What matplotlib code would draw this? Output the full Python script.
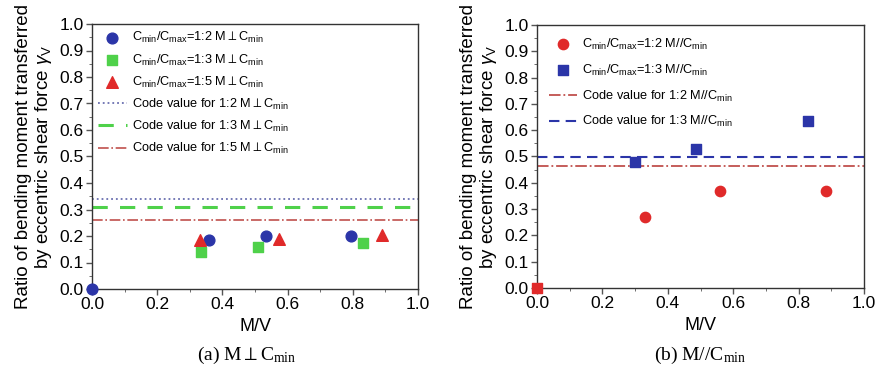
import matplotlib
matplotlib.use('Agg')
import matplotlib.pyplot as plt
from matplotlib.ticker import MultipleLocator

plt.rcParams['font.family'] = ['Liberation Sans', 'DejaVu Sans']
plt.rcParams['mathtext.fontset'] = 'custom'
plt.rcParams['mathtext.rm'] = 'Liberation Sans'
plt.rcParams['mathtext.it'] = 'Liberation Sans:italic'
plt.rcParams['mathtext.fallback'] = 'stixsans'

# (a) M perpendicular to Cmin
a_x_12 = [0.0, 0.36, 0.535, 0.795]
a_y_12 = [0.0, 0.185, 0.20, 0.20]
a_x_13 = [0.335, 0.51, 0.83]
a_y_13 = [0.14, 0.16, 0.175]
a_x_15 = [0.33, 0.575, 0.89]
a_y_15 = [0.185, 0.19, 0.205]
a_code = [0.34, 0.31, 0.26]

# (b) M parallel to Cmin
b_x_12 = [0.33, 0.56, 0.885]
b_y_12 = [0.27, 0.37, 0.37]
b_x_13 = [0.30, 0.485, 0.83]
b_y_13 = [0.48, 0.53, 0.635]
b_origin = [0.0, 0.0]
b_code = [0.465, 0.50]

blue = '#2b35a8'
green = '#4fd14a'
red = '#e02a2a'
cm = r'C$_\mathregular{min}$/C$_\mathregular{max}$'
cmin = r'C$_\mathregular{min}$'
perp = r'M${\perp}$'

fig = plt.figure(figsize=(8.8, 3.82), dpi=100)
ax1 = fig.add_axes([92/880, 1-289/382, 326/880, 265/382])
ax2 = fig.add_axes([537/880, 1-288/382, 327/880, 263/382])

ax1.scatter(a_x_12, a_y_12, marker='o', s=60, color=blue, zorder=3, clip_on=False,
            label=cm + '=1:2 ' + perp + cmin)
ax1.scatter(a_x_13, a_y_13, marker='s', s=55, color=green, zorder=3,
            label=cm + '=1:3 ' + perp + cmin)
ax1.scatter(a_x_15, a_y_15, marker='^', s=70, color=red, zorder=3,
            label=cm + '=1:5 ' + perp + cmin)
ax1.axhline(a_code[0], color='#6a6fb0', ls=':', lw=1.3, label='Code value for 1:2 ' + perp + cmin)
ax1.axhline(a_code[1], color=green, ls=(0, (5, 4)), lw=2.2, label='Code value for 1:3 ' + perp + cmin)
ax1.axhline(a_code[2], color='#c0504d', ls='-.', lw=1.2, label='Code value for 1:5 ' + perp + cmin)

ax2.scatter(b_x_12, b_y_12, marker='o', s=55, color=red, zorder=3,
            label=cm + '=1:2 M//' + cmin)
ax2.scatter(b_x_13, b_y_13, marker='s', s=50, color=blue, zorder=3,
            label=cm + '=1:3 M//' + cmin)
ax2.scatter([b_origin[0]], [b_origin[1]], marker='s', s=55, color=red, zorder=4, clip_on=False)
ax2.axhline(b_code[0], color='#c0504d', ls='-.', lw=1.3, label='Code value for 1:2 M//' + cmin)
ax2.axhline(b_code[1], color=blue, ls=(0, (5, 3)), lw=1.5, label='Code value for 1:3 M//' + cmin)

ylab = 'Ratio of bending moment transferred\nby eccentric shear force ' + r'$\gamma_\mathregular{V}$'
for ax, spacing, pad in ((ax1, 0.55, 0.1), (ax2, 0.85, 0.5)):
    ax.set_xlim(0, 1.0)
    ax.set_ylim(0, 1.0)
    ax.xaxis.set_major_locator(MultipleLocator(0.2))
    ax.xaxis.set_minor_locator(MultipleLocator(0.1))
    ax.yaxis.set_major_locator(MultipleLocator(0.1))
    ax.yaxis.set_minor_locator(MultipleLocator(0.05))
    ax.set_xticklabels(['%.1f' % v for v in ax.get_xticks()])
    ax.set_yticklabels(['%.1f' % v for v in ax.get_yticks()])
    ax.tick_params(labelsize=12.5, length=4, width=1, color='#555555', pad=2)
    ax.tick_params(which='minor', length=2.5, color='#555555')
    ax.set_xlabel('M/V', fontsize=13, labelpad=4)
    ax.set_ylabel(ylab, fontsize=13.5, linespacing=1.05, labelpad=4)
    for sp in ax.spines.values():
        sp.set_color('#333333')
        sp.set_linewidth(1.0)
    ax.legend(loc='upper left', frameon=False, fontsize=9.2, handlelength=2.2,
              handletextpad=0.4, labelspacing=spacing, borderaxespad=pad,
              bbox_to_anchor=(0.0, 1.0))

fig.text(247/880, 1-355/382, r'(a) M$\perp$C$_\mathregular{min}$', ha='center', va='center',
         fontsize=14, family='Liberation Serif', math_fontfamily='stix')
fig.text(700/880, 1-355/382, r'(b) M//C$_\mathregular{min}$', ha='center', va='center',
         fontsize=14, family='Liberation Serif', math_fontfamily='stix')

fig.savefig('out.png', dpi=100)
